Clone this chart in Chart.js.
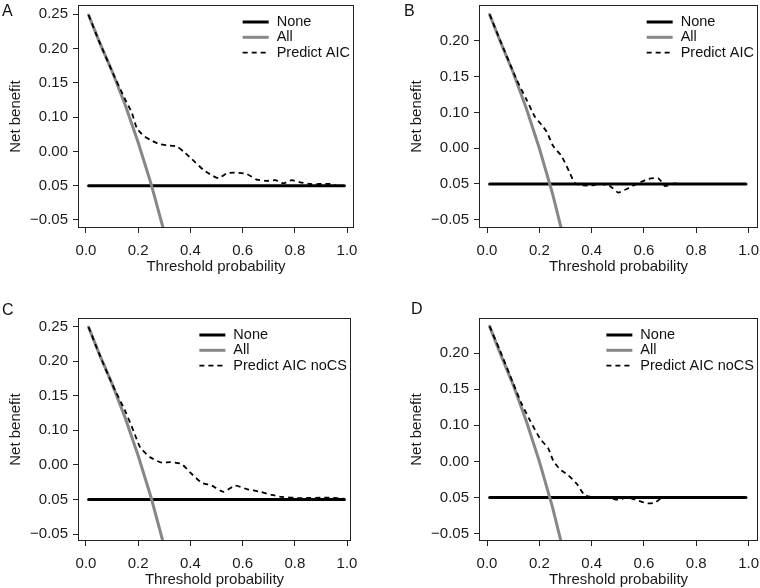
<!DOCTYPE html>
<html>
<head>
<meta charset="utf-8">
<script src="https://cdn.jsdelivr.net/npm/chart.js@4.4.1/dist/chart.umd.min.js"></script>
<style>
  html, body { margin: 0; padding: 0; background: #fff; }
  #page { position: relative; width: 760px; height: 588px; overflow: hidden; }
  .panel { position: absolute; }
  .tag { position: absolute; font: 16px "Liberation Sans", Arial, sans-serif; color: #111; line-height: 1; }
</style>
</head>
<body>
<div id="page">
  <div class="panel" style="left:0;top:0;width:380px;height:290px"><canvas id="chartA"></canvas></div>
  <div class="panel" style="left:380px;top:0;width:380px;height:290px"><canvas id="chartB"></canvas></div>
  <div class="panel" style="left:0;top:290px;width:380px;height:298px"><canvas id="chartC"></canvas></div>
  <div class="panel" style="left:380px;top:290px;width:380px;height:298px"><canvas id="chartD"></canvas></div>
  <div class="tag" style="left:2px;top:3px">A</div>
  <div class="tag" style="left:404px;top:3px">B</div>
  <div class="tag" style="left:2px;top:302px">C</div>
  <div class="tag" style="left:411px;top:301px">D</div>
</div>
<script>
// ---- data ----
const xTickValues = [0, 0.2, 0.4, 0.6, 0.8, 1.0];
const yTickValues = [-0.05, 0, 0.05, 0.10, 0.15, 0.20, 0.25];
const yTickLabels = ['\u22120.05', '0.05', '0.00', '0.10', '0.15', '0.20', '0.25'];

const noneThresholds = [0.01, 0.99];
const noneBenefit = [0, 0];

const allThresholds = [0.01, 0.05, 0.10, 0.15, 0.20, 0.25, 0.30];
const allBenefitAC = [0.249, 0.211, 0.167, 0.118, 0.063, 0.002, -0.068];
const allBenefitBD = [0.237, 0.200, 0.156, 0.106, 0.050, -0.013, -0.086];

const predictThresholdsA = [0.01, 0.05, 0.10, 0.15, 0.176, 0.195, 0.22, 0.246, 0.278, 0.31, 0.348, 0.373, 0.405, 0.45, 0.488, 0.508, 0.54, 0.578, 0.616, 0.654, 0.693, 0.725, 0.756, 0.788, 0.82, 0.858, 0.935, 0.96];
const predictBenefitA = [0.249, 0.211, 0.167, 0.126, 0.106, 0.084, 0.073, 0.067, 0.061, 0.059, 0.057, 0.050, 0.039, 0.023, 0.014, 0.011, 0.018, 0.019, 0.017, 0.009, 0.007, 0.008, 0.0035, 0.008, 0.005, 0.0025, 0.0025, 0.0];

const predictThresholdsB = [0.01, 0.05, 0.113, 0.151, 0.183, 0.208, 0.228, 0.253, 0.285, 0.317, 0.336, 0.368, 0.40, 0.432, 0.47, 0.502, 0.534, 0.572, 0.617, 0.655, 0.681, 0.707, 0.74];
const predictBenefitB = [0.237, 0.201, 0.146, 0.118, 0.094, 0.083, 0.073, 0.053, 0.039, 0.015, 0.001, -0.002, -0.002, 0.0, -0.003, -0.012, -0.007, 0.0, 0.007, 0.008, -0.003, 0.0, 0.001];

const predictThresholdsC = [0.01, 0.05, 0.10, 0.15, 0.182, 0.208, 0.246, 0.291, 0.323, 0.367, 0.399, 0.444, 0.482, 0.527, 0.571, 0.616, 0.667, 0.712, 0.75, 0.82, 0.935, 0.99];
const predictBenefitC = [0.249, 0.211, 0.167, 0.128, 0.099, 0.075, 0.061, 0.053, 0.054, 0.051, 0.039, 0.024, 0.020, 0.011, 0.020, 0.015, 0.011, 0.0065, 0.0036, 0.002, 0.0026, 0.001];

const predictThresholdsD = [0.01, 0.049, 0.10, 0.132, 0.164, 0.202, 0.234, 0.253, 0.279, 0.31, 0.343, 0.374, 0.419, 0.457, 0.502, 0.534, 0.566, 0.611, 0.643, 0.674];
const predictBenefitD = [0.237, 0.204, 0.158, 0.130, 0.107, 0.082, 0.068, 0.051, 0.039, 0.031, 0.019, 0.003, 0.000, 0.000, -0.003, 0.000, -0.003, -0.008, -0.007, 0.002];

// ---- helpers ----
const FONT = '"Liberation Sans", Arial, Helvetica, sans-serif';
Chart.defaults.font.family = FONT;
Chart.defaults.font.size = 15;
Chart.defaults.color = '#1a1a1a';

function pairs(xs, ys) {
    return xs.map((x, i) => ({ x: x, y: ys[i] }));
}

// box round the plot region + R-style legend in the top right corner
const framePlugin = {
    id: 'frame',
    afterDraw(chart) {
        const ctx = chart.ctx;
        const a = chart.chartArea;
        ctx.save();
        ctx.strokeStyle = '#222';
        ctx.lineWidth = 1;
        ctx.strokeRect(a.left + 0.5, a.top + 0.5, a.right - a.left - 1, a.bottom - a.top - 1);

        ctx.font = '14.5px ' + FONT;
        const sets = chart.data.datasets;
        const maxW = Math.max(...sets.map(d => ctx.measureText(d.label).width));
        const textX = a.right - 4 - maxW;
        sets.forEach((ds, i) => {
            const y = a.top + 17 + i * 15.3;
            ctx.beginPath();
            ctx.setLineDash(ds.borderDash || []);
            ctx.lineWidth = ds.borderWidth;
            ctx.strokeStyle = ds.borderColor;
            ctx.lineCap = 'butt';
            ctx.moveTo(textX - 34, y);
            ctx.lineTo(textX - 8, y);
            ctx.stroke();
            ctx.setLineDash([]);
            ctx.fillStyle = '#111';
            ctx.textBaseline = 'middle';
            ctx.textAlign = 'left';
            ctx.fillText(ds.label, textX, y);
        });
        ctx.restore();
    }
};

function makePanel(canvasId, panel) {
    const yTicks = yTickValues.filter(v => v <= panel.yTop + 1e-9);
    const yAxisWidth = panel.area.l - panel.canvas.left;
    const xAxisHeight = panel.canvas.top + panel.canvas.h - panel.area.b;
    const titleBottomPad = (panel.canvas.top + panel.canvas.h) - (panel.area.b + 39) - 9;

    new Chart(document.getElementById(canvasId), {
        type: 'line',
        data: {
            datasets: [
                {
                    label: 'None',
                    data: pairs(noneThresholds, noneBenefit),
                    borderColor: '#000',
                    borderWidth: 3,
                    borderCapStyle: 'round',
                    order: 3
                },
                {
                    label: 'All',
                    data: pairs(allThresholds, panel.allBenefit),
                    borderColor: '#878787',
                    borderWidth: 3,
                    borderCapStyle: 'round',
                    order: 2
                },
                {
                    label: panel.predictLabel,
                    data: pairs(panel.predictX, panel.predictY),
                    borderColor: '#000',
                    borderWidth: 1.8,
                    borderDash: [5, 4],
                    tension: 0.2,
                    order: 1
                }
            ]
        },
        options: {
            responsive: true,
            maintainAspectRatio: false,
            animation: false,
            layout: {
                padding: {
                    left: 0,
                    top: panel.area.t - panel.canvas.top,
                    right: panel.canvas.left + panel.canvas.w - panel.area.r,
                    bottom: 0
                }
            },
            elements: {
                point: { radius: 0 }
            },
            plugins: {
                legend: { display: false },
                tooltip: { enabled: false }
            },
            scales: {
                x: {
                    type: 'linear',
                    min: panel.xMin,
                    max: panel.xMax,
                    afterBuildTicks: scale => {
                        scale.ticks = xTickValues.map(v => ({ value: v }));
                    },
                    afterFit: scale => {
                        scale.height = xAxisHeight;
                        scale.paddingLeft = 0;
                        scale.paddingRight = 0;
                    },
                    ticks: {
                        autoSkip: false,
                        maxRotation: 0,
                        padding: 9,
                        callback: v => v.toFixed(1)
                    },
                    grid: {
                        drawOnChartArea: false,
                        drawTicks: true,
                        tickLength: 5,
                        color: '#222'
                    },
                    border: { display: false },
                    title: {
                        display: true,
                        text: 'Threshold probability',
                        padding: { top: 0, bottom: titleBottomPad }
                    }
                },
                y: {
                    type: 'linear',
                    min: panel.yMin,
                    max: panel.yMax,
                    afterBuildTicks: scale => {
                        scale.ticks = yTicks.map(v => ({ value: v }));
                    },
                    afterFit: scale => {
                        scale.width = yAxisWidth;
                        scale.paddingTop = 0;
                        scale.paddingBottom = 0;
                    },
                    ticks: {
                        autoSkip: false,
                        padding: 5,
                        callback: v => {
                            const i = yTickValues.findIndex(t => Math.abs(t - v) < 1e-9);
                            return i >= 0 ? yTickLabels[i] : '';
                        }
                    },
                    grid: {
                        drawOnChartArea: false,
                        drawTicks: true,
                        tickLength: 5,
                        color: '#222'
                    },
                    border: { display: false },
                    title: {
                        display: true,
                        text: 'Net benefit',
                        padding: { top: yAxisWidth - 62.5 - 9, bottom: 0 }
                    }
                }
            }
        },
        plugins: [framePlugin]
    });
}

makePanel('chartA', {
    canvas: { left: 0, top: 0, w: 380, h: 290 },
    area: { l: 78, t: 5, r: 354, b: 228 },
    xMin: -0.0306, xMax: 1.0268, yMin: -0.0617, yMax: 0.2636, yTop: 0.25,
    allBenefit: allBenefitAC,
    predictLabel: 'Predict AIC',
    predictX: predictThresholdsA, predictY: predictBenefitA
});
makePanel('chartB', {
    canvas: { left: 380, top: 0, w: 380, h: 290 },
    area: { l: 479, t: 5, r: 758, b: 228 },
    xMin: -0.0307, xMax: 1.036, yMin: -0.0616, yMax: 0.2503, yTop: 0.20,
    allBenefit: allBenefitBD,
    predictLabel: 'Predict AIC',
    predictX: predictThresholdsB, predictY: predictBenefitB
});
makePanel('chartC', {
    canvas: { left: 0, top: 290, w: 380, h: 298 },
    area: { l: 78, t: 318, r: 351, b: 541 },
    xMin: -0.0306, xMax: 1.0153, yMin: -0.0601, yMax: 0.2622, yTop: 0.25,
    allBenefit: allBenefitAC,
    predictLabel: 'Predict AIC noCS',
    predictX: predictThresholdsC, predictY: predictBenefitC
});
makePanel('chartD', {
    canvas: { left: 380, top: 290, w: 380, h: 298 },
    area: { l: 479, t: 318, r: 758, b: 541 },
    xMin: -0.0307, xMax: 1.036, yMin: -0.0603, yMax: 0.2486, yTop: 0.20,
    allBenefit: allBenefitBD,
    predictLabel: 'Predict AIC noCS',
    predictX: predictThresholdsD, predictY: predictBenefitD
});
</script>
</body>
</html>
